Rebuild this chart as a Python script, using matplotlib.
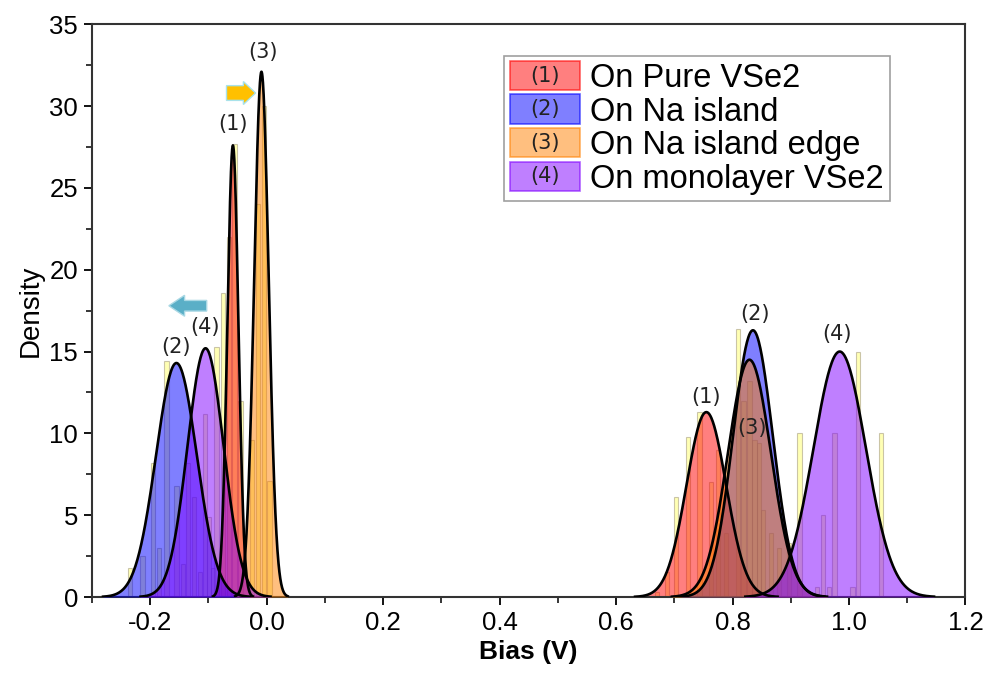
import numpy as np
import matplotlib
matplotlib.use("Agg")
import matplotlib.pyplot as plt
from matplotlib.patches import Rectangle, FancyArrow
from matplotlib.legend_handler import HandlerBase
from matplotlib.text import Text

plt.rcParams["font.family"] = ["Liberation Sans", "DejaVu Sans"]

# Gaussian fits: (left peak, right peak) per tip position
SERIES = ["On Pure VSe2", "On Na island", "On Na island edge", "On monolayer VSe2"]
TAGS = ["(1)", "(2)", "(3)", "(4)"]
COLORS = ["#FF0000", "#0000FF", "#FF8000", "#8000FF"]

centers_left = [-0.058, -0.155, -0.009, -0.105]
sigmas_left = [0.0095, 0.035, 0.0125, 0.031]
peaks_left = [27.6, 14.3, 32.1, 15.2]

centers_right = [0.755, 0.835, 0.829, 0.984]
sigmas_right = [0.034, 0.034, 0.037, 0.045]
peaks_right = [11.3, 16.3, 14.5, 15.0]

# histogram bars (bias, density) behind the fits
hist1_x = [-0.075, -0.065, -0.055, -0.045, 0.670, 0.687, 0.703, 0.723, 0.743, 0.763, 0.775, 0.789]
hist1_y = [18.6, 22.0, 27.7, 12.0, 0.3, 1.5, 6.1, 9.8, 11.3, 7.0, 9.0, 3.9]
hist2_x = [-0.235, -0.213, -0.195, -0.185, -0.172, -0.155, -0.144, 0.809, 0.829, 0.852, 0.866]
hist2_y = [1.8, 2.5, 8.2, 3.0, 14.4, 6.8, 2.0, 16.4, 13.2, 5.3, 3.9]
hist3_x = [-0.025, -0.015, -0.005, 0.005, 0.819, 0.838, 0.845, 0.880, 0.897]
hist3_y = [9.6, 24.0, 30.0, 7.1, 12.0, 9.6, 9.4, 3.0, 3.3]
hist4_x = [-0.135, -0.125, -0.115, -0.106, -0.099, -0.092, -0.086, 0.915, 0.945, 0.955, 0.966, 0.975, 1.006, 1.015, 1.055]
hist4_y = [8.2, 6.1, 1.5, 11.2, 4.9, 1.8, 15.3, 10.0, 0.6, 5.0, 0.6, 10.0, 0.6, 15.0, 10.0]

# peak tags: (x, y)
tags_left = [(-0.057, 28.9), (-0.155, 15.3), (-0.007, 33.3), (-0.106, 16.5)]
tags_right = [(0.755, 12.2), (0.838, 17.3), (0.834, 10.3), (0.980, 16.1)]


class BoxWithTag(HandlerBase):
    def __init__(self, tag):
        super().__init__()
        self.tag = tag

    def create_artists(self, legend, orig_handle, xdescent, ydescent,
                       width, height, fontsize, trans):
        r = Rectangle((-xdescent, -ydescent - 2), width, height + 4,
                      facecolor=orig_handle.get_facecolor(),
                      edgecolor=orig_handle.get_edgecolor(), lw=1.2, transform=trans)
        t = Text(-xdescent + width / 2, -ydescent + height / 2, self.tag,
                 ha="center", va="center", fontsize=15, family="DejaVu Sans",
                 color="#222222", transform=trans)
        return [r, t]


def gauss(x, c, s, a):
    return a * np.exp(-0.5 * ((x - c) / s) ** 2)


def main():
    fig = plt.figure(figsize=(9.87, 6.73), dpi=100)
    ax = fig.add_axes([0.0932, 0.1129, 0.885, 0.851])

    # histograms first, so the fits sit on top of them
    for hx, hy in [(hist1_x, hist1_y), (hist2_x, hist2_y), (hist3_x, hist3_y), (hist4_x, hist4_y)]:
        ax.bar(hx, hy, width=0.0075, color=(1.0, 1.0, 0.35, 0.45),
               edgecolor=(0.55, 0.5, 0.4, 0.45), lw=0.8, zorder=1)

    handles = []
    for i in range(4):
        for c, s, a in [(centers_left[i], sigmas_left[i], peaks_left[i]),
                        (centers_right[i], sigmas_right[i], peaks_right[i])]:
            x = np.linspace(c - 3.6 * s, c + 3.6 * s, 300)
            y = gauss(x, c, s, a)
            ax.fill_between(x, 0, y, color=COLORS[i], alpha=0.5, lw=0, zorder=2 + i)
            ax.plot(x, y, color="black", lw=1.9, zorder=7)
        rgb = matplotlib.colors.to_rgb(COLORS[i])
        handles.append(Rectangle((0, 0), 1, 1, facecolor=(*rgb, 0.5), edgecolor=(*rgb, 0.6)))

    for (tx, ty), tag in zip(tags_left + tags_right, TAGS + TAGS):
        ax.text(tx, ty, tag, ha="center", va="center", fontsize=15,
                family="DejaVu Sans", color="#222222", zorder=9)

    ax.add_patch(FancyArrow(-0.069, 30.8, 0.050, 0, width=0.9, head_width=1.4,
                            head_length=0.021, length_includes_head=True,
                            fc="#FFC000", ec="#A8E2EA", lw=1, zorder=9))
    ax.add_patch(FancyArrow(-0.103, 17.8, -0.065, 0, width=0.65, head_width=1.28,
                            head_length=0.027, length_includes_head=True,
                            fc="#5AAFC7", ec="#A9D8E4", lw=1, zorder=9))

    ax.set_xlim(-0.3, 1.2)
    ax.set_ylim(0, 35)
    ax.set_xticks(np.arange(-0.2, 1.21, 0.2))
    ax.set_xticklabels(["-0.2", "0.0", "0.2", "0.4", "0.6", "0.8", "1.0", "1.2"])
    ax.set_xticks(np.arange(-0.3, 1.21, 0.1), minor=True)
    ax.set_yticks(np.arange(0, 36, 5))
    ax.set_yticks(np.arange(0, 35.1, 2.5), minor=True)
    ax.tick_params(which="major", direction="out", length=6, width=1.3, labelsize=18.5, pad=4)
    ax.tick_params(which="minor", direction="out", length=4, width=1.1)
    for sp in ax.spines.values():
        sp.set_linewidth(1.5)
        sp.set_color("#333333")

    ax.set_xlabel("Bias (V)", fontsize=19, fontweight="bold", labelpad=4)
    ax.set_ylabel("Density", fontsize=20, labelpad=4)

    leg = ax.legend(handles, SERIES, loc="upper right", bbox_to_anchor=(0.914, 0.944),
                    borderaxespad=0, fontsize=23.5, frameon=True, fancybox=False,
                    handlelength=2.15, handleheight=0.75, handletextpad=0.3,
                    labelspacing=0.08, borderpad=0.2,
                    handler_map={h: BoxWithTag(t) for h, t in zip(handles, TAGS)})
    leg.get_frame().set_edgecolor("#888888")
    leg.get_frame().set_linewidth(1.2)
    leg.set_zorder(10)

    fig.savefig("out.png", dpi=100)
    plt.close(fig)


if __name__ == "__main__":
    main()
